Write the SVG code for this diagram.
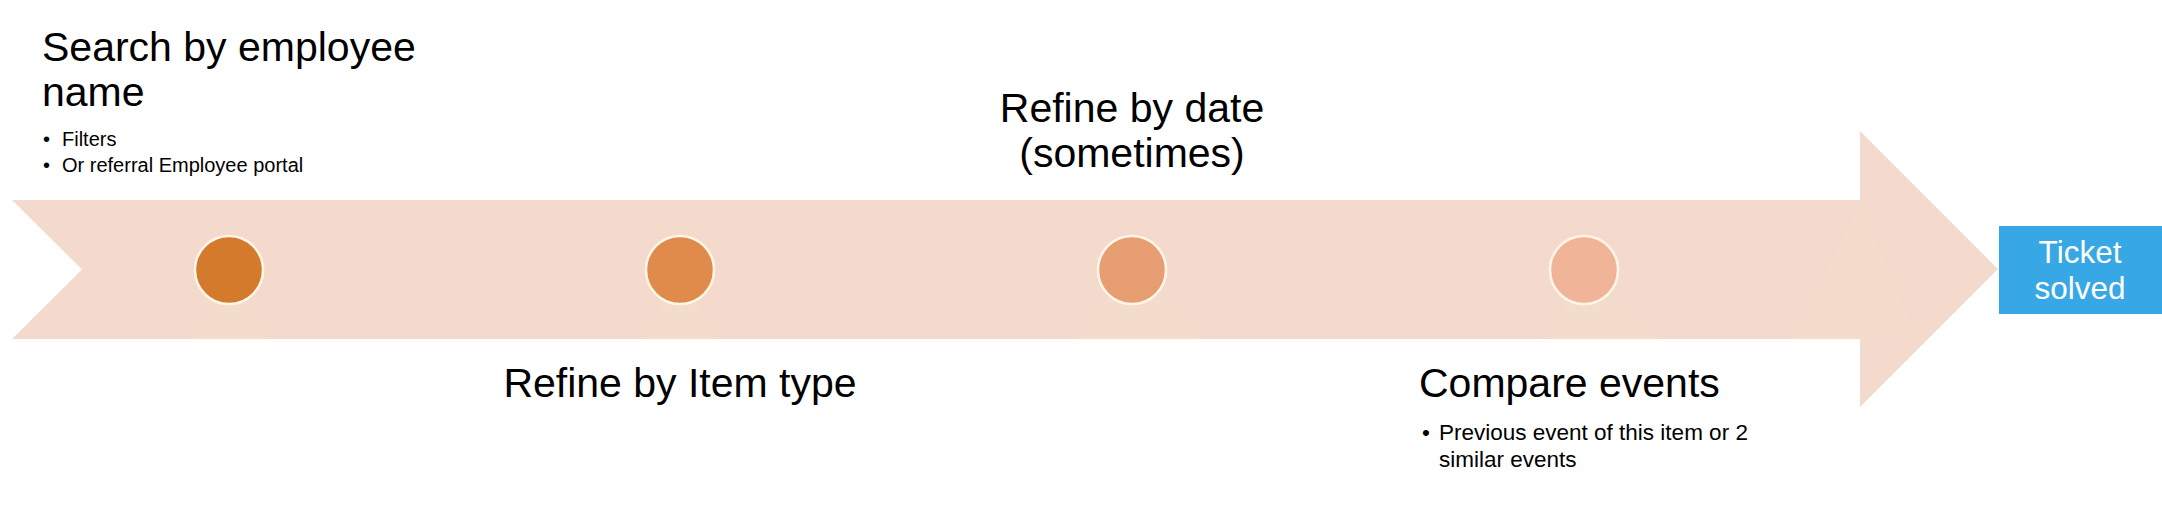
<svg xmlns="http://www.w3.org/2000/svg" width="2162" height="511" viewBox="0 0 2162 511">
  <style>
    .title { font-family: "Liberation Sans", Arial, sans-serif; font-size: 41px; fill: #000; }
    .bullet { font-family: "Liberation Sans", Arial, sans-serif; font-size: 20px; fill: #000; }
    .bullet2 { font-family: "Liberation Sans", Arial, sans-serif; font-size: 22.5px; fill: #000; }
    .dot { stroke: #FFF6E8; stroke-width: 2.5; }
    .shade { fill: #F1DDCA; opacity: 0.6; }
    .box { fill: #37A7E5; }
    .boxtext { font-family: "Liberation Sans", Arial, sans-serif; font-size: 31.5px; fill: #FFFFFF; text-anchor: middle; }
  </style>
  <rect width="2162" height="511" fill="#FFFFFF"/>

  <g id="timeline-arrow">
    <polygon points="12,200 1860,200 1860,131 1998,269 1860,407 1860,339 12,339 82,269.5" fill="#F4DACD"/>
    <polygon class="shade" points="229,270 190,339 268,339"/>
    <polygon class="shade" points="680,270 641,339 719,339"/>
    <polygon class="shade" points="1132,270 1078,339 1203,339"/>
    <polygon class="shade" points="1584,270 1545,339 1660,339"/>
    <polygon class="shade" points="1860,205 1790,339 1917,339"/>
  </g>

  <g id="connectors"></g>

  <g id="step1">
    <circle class="dot" cx="229" cy="270" r="34" fill="#D47A2C"/>
    <text class="title" x="42" y="61">Search by employee</text>
    <text class="title" x="42" y="106">name</text>
    <text class="bullet" x="43" y="146">•</text>
    <text class="bullet" x="62" y="146">Filters</text>
    <text class="bullet" x="43" y="172">•</text>
    <text class="bullet" x="62" y="172">Or referral Employee portal</text>
  </g>

  <g id="step2">
    <circle class="dot" cx="680" cy="270" r="34" fill="#E08B4B"/>
    <text class="title" x="680" y="397" text-anchor="middle">Refine by Item type</text>
  </g>

  <g id="step3">
    <circle class="dot" cx="1132" cy="270" r="34" fill="#E69E72"/>
    <text class="title" x="1132" y="122" text-anchor="middle">Refine by date</text>
    <text class="title" x="1132" y="167" text-anchor="middle">(sometimes)</text>
  </g>

  <g id="step4">
    <circle class="dot" cx="1584" cy="270" r="34" fill="#F0B598"/>
    <text class="title" x="1419" y="397">Compare events</text>
    <text class="bullet2" x="1422" y="440">•</text>
    <text class="bullet2" x="1439" y="440">Previous event of this item or 2</text>
    <text class="bullet2" x="1439" y="467">similar events</text>
  </g>

  <g id="ticket-solved">
    <rect class="box" x="1999" y="226" width="163" height="88"/>
    <text class="boxtext" x="2080" y="263">Ticket</text>
    <text class="boxtext" x="2080" y="299">solved</text>
  </g>
</svg>
